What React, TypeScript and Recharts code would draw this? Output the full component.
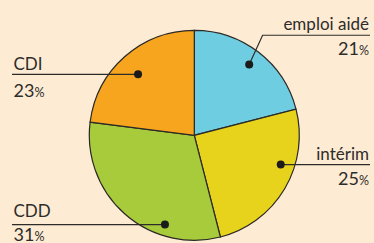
import { PieChart, Pie, Cell } from 'recharts'

const categories = ['emploi aidé', 'intérim', 'CDD', 'CDI']
const shares = [21, 25, 31, 23]
const sliceColors = ['#6fcde1', '#e7d31b', '#a7cb3b', '#f7a51e']

const data = categories.map((name, i) => ({ name, value: shares[i] }))

// where each callout sits: angle shift from the slice middle, dot radius, text offsets
const callouts = [
  { turn: 0, r: 0.853, side: 'right', elbow: [13.4, -29.3], nameDy: -5.5, valueDy: 20 },
  { turn: 11.9, r: 0.869, side: 'right', elbow: null, nameDy: -4.5, valueDy: 20.7 },
  { turn: 23.2, r: 0.895, side: 'left', elbow: null, nameDy: -8, valueDy: 16 },
  { turn: 1.3, r: 0.79, side: 'left', elbow: null, nameDy: -4.7, valueDy: 22.7 },
]

const W = 374
const H = 243
const RAD = Math.PI / 180
const font = 'Lato, "Open Sans", sans-serif'
const ink = '#2e2c2a'

function Callout(props: any) {
  const { cx, cy, midAngle, outerRadius, index, name, value } = props
  const c = callouts[index]
  const a = midAngle + c.turn
  const dx = cx + Math.cos(-a * RAD) * outerRadius * c.r
  const dy = cy + Math.sin(-a * RAD) * outerRadius * c.r
  const right = c.side === 'right'
  const edge = right ? 370 : 12
  const textX = right ? 369 : 13.5
  let pts = `${dx},${dy}`
  let lineY = dy
  if (c.elbow) {
    const ex = dx + c.elbow[0]
    lineY = dy + c.elbow[1]
    pts += ` ${ex},${lineY}`
  }
  pts += ` ${edge},${lineY}`
  return (
    <g>
      <polyline points={pts} fill="none" stroke={ink} strokeWidth={1.2} />
      <circle cx={dx} cy={dy} r={4} fill="#1c1a1a" />
      <text x={textX} y={lineY + c.nameDy} textAnchor={right ? 'end' : 'start'}
        fontFamily={font} fontSize={17} fill={ink}>{name}</text>
      <text x={textX} y={lineY + c.valueDy} textAnchor={right ? 'end' : 'start'}
        fontFamily={font} fill={ink}>
        <tspan fontSize={18}>{value}</tspan>
        <tspan fontSize={12.5}>%</tspan>
      </text>
    </g>
  )
}

export default function App() {
  return (
    <div style={{ width: W, height: H, background: '#fdebd3' }}>
      <style>{'body{margin:0}'}</style>
      <PieChart width={W} height={H} margin={{ top: 0, right: 0, bottom: 0, left: 0 }}>
        <Pie
          data={data}
          dataKey="value"
          nameKey="name"
          cx={194.3}
          cy={135.3}
          outerRadius={105}
          startAngle={90}
          endAngle={-270}
          stroke="#2b2826"
          strokeWidth={1.2}
          label={Callout}
          labelLine={false}
          isAnimationActive={false}
        >
          {data.map((d, i) => (
            <Cell key={d.name} fill={sliceColors[i]} />
          ))}
        </Pie>
      </PieChart>
    </div>
  )
}
